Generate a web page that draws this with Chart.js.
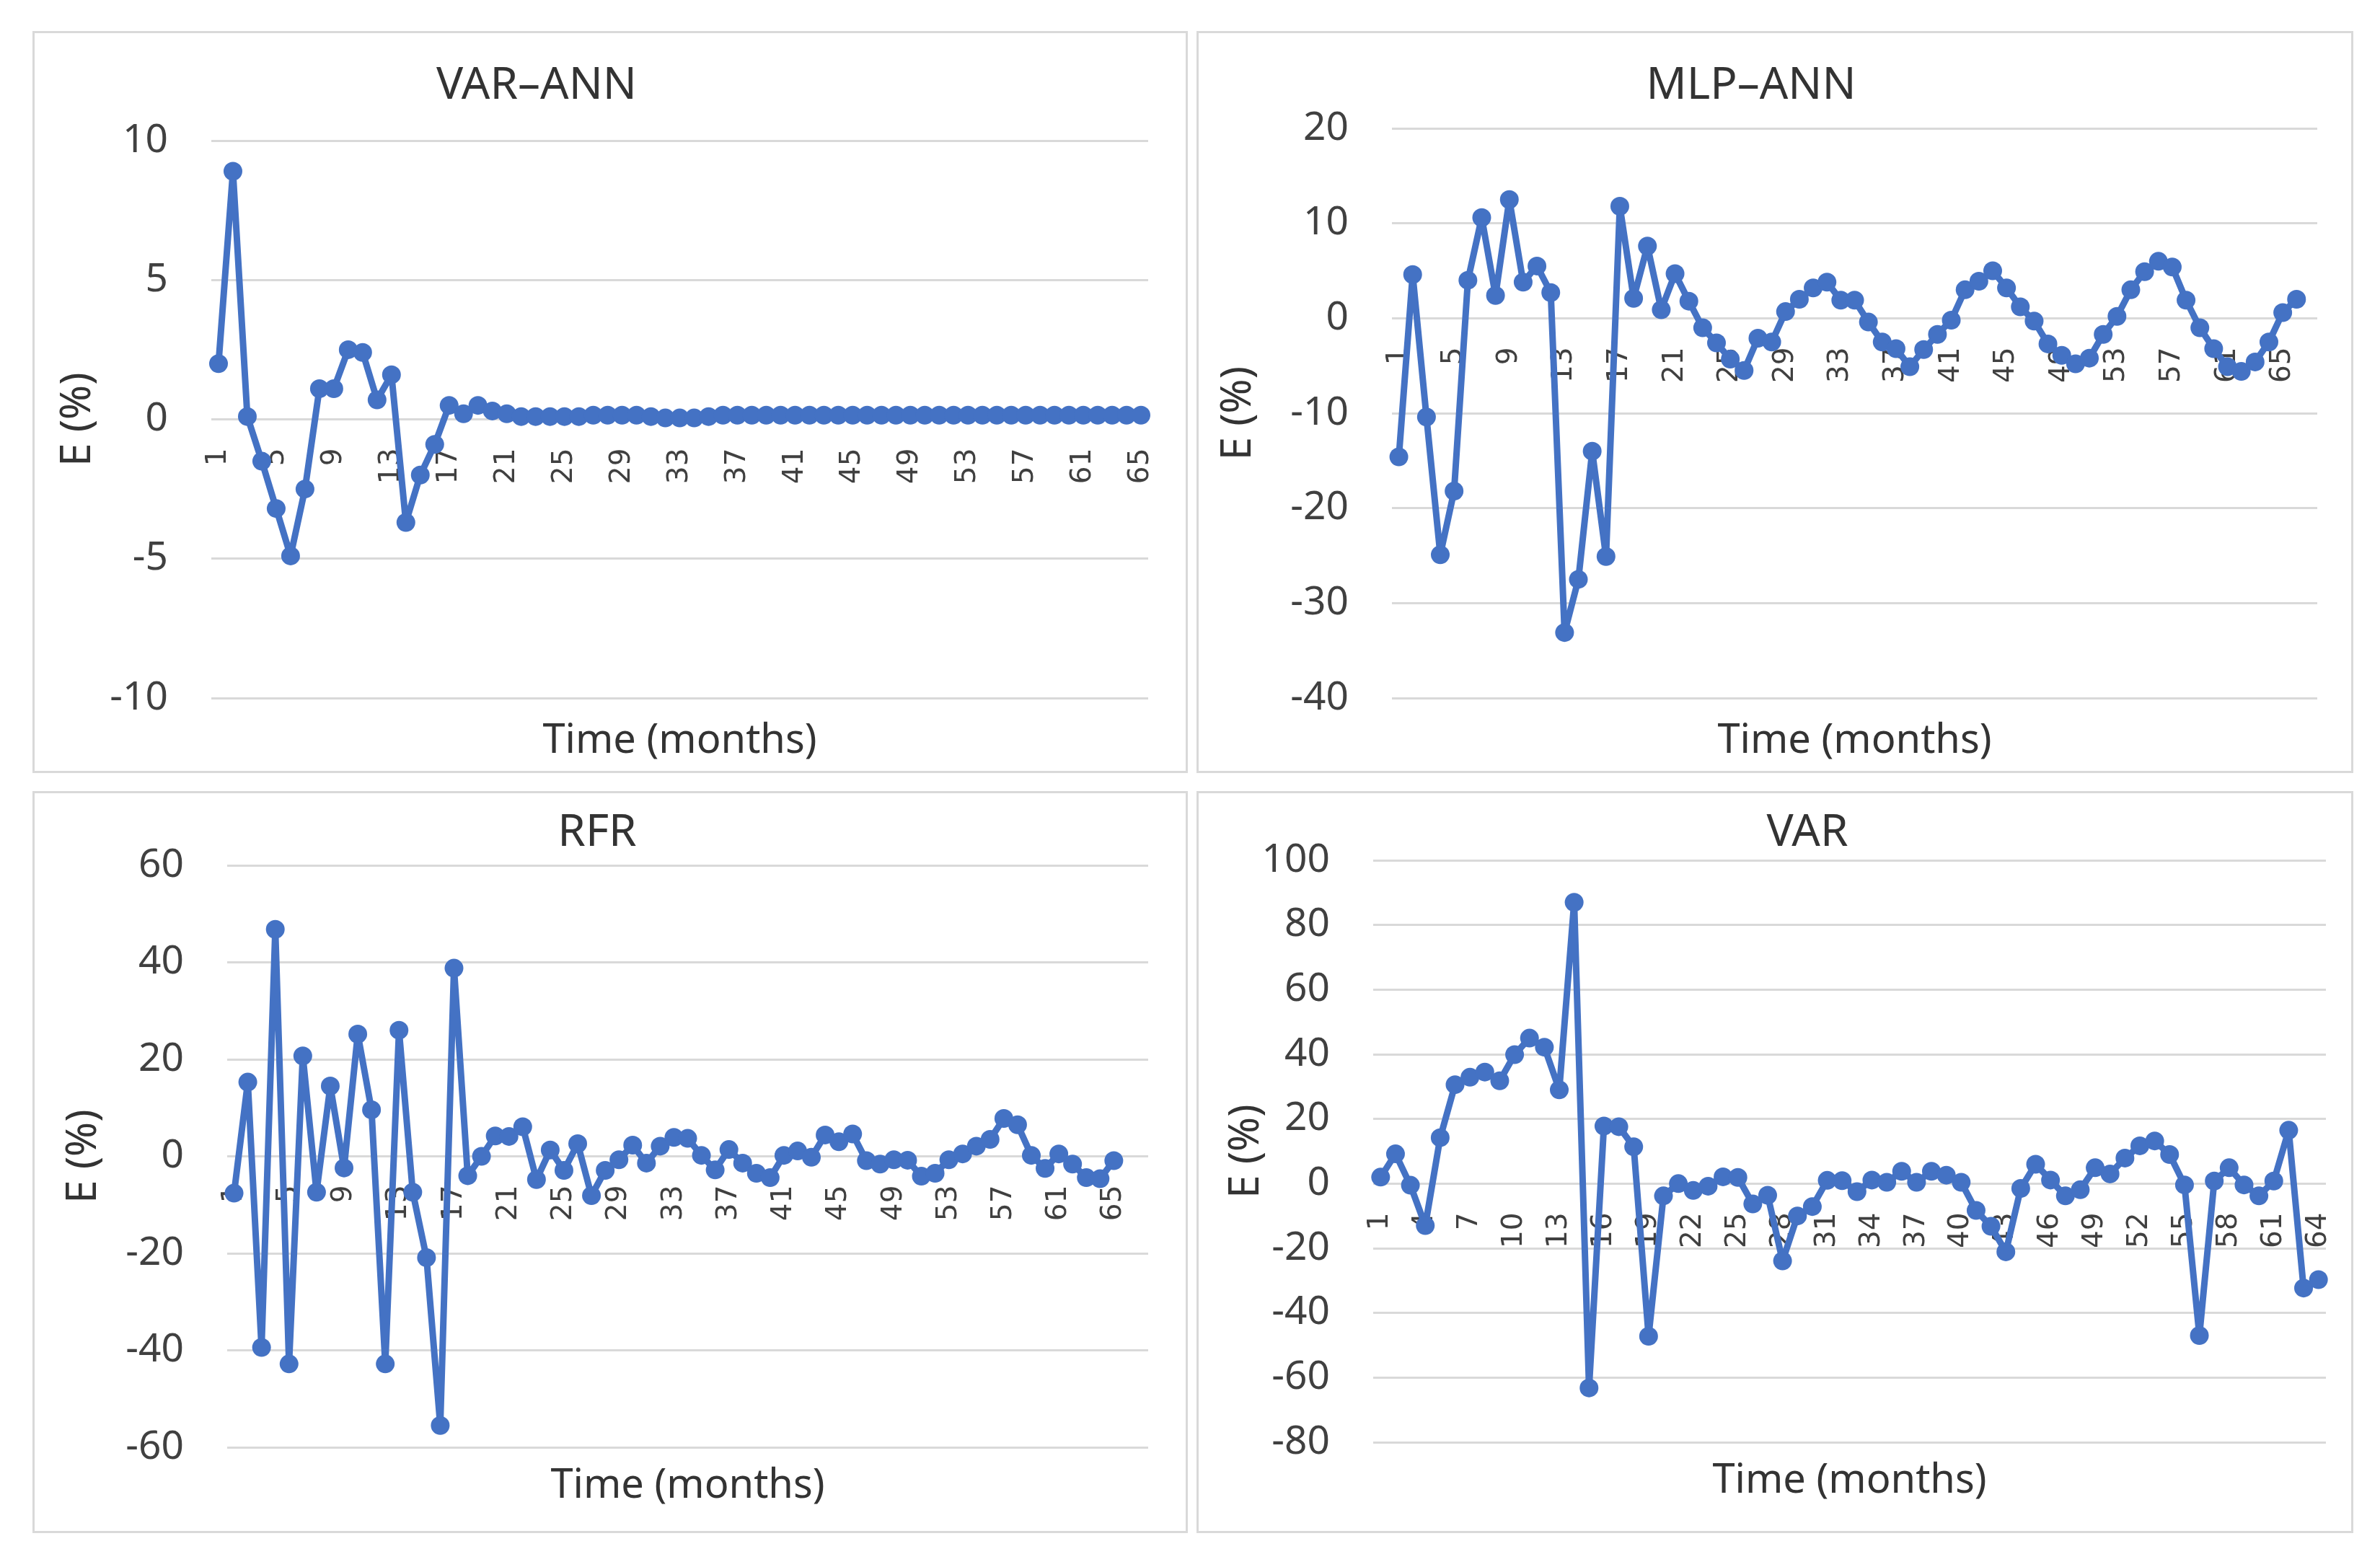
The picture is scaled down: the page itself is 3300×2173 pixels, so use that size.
<!DOCTYPE html>
<html>
<head>
<meta charset="utf-8">
<script src="https://cdn.jsdelivr.net/npm/chart.js@4.4.1/dist/chart.umd.min.js"></script>
<style>
  html, body { margin: 0; padding: 0; background: #fff; }
  body { width: 3300px; height: 2173px; position: relative; overflow: hidden; }
  .frame { position: absolute; box-sizing: border-box; border: 3px solid #d9d9d9; }
  .plot { position: absolute; }
</style>
</head>
<body>
<div class="frame" style="left:45px;top:43px;width:1602px;height:1029px"></div>
<div class="frame" style="left:1659px;top:43px;width:1604px;height:1029px"></div>
<div class="frame" style="left:45px;top:1097px;width:1602px;height:1029px"></div>
<div class="frame" style="left:1659px;top:1097px;width:1604px;height:1029px"></div>
<div class="plot" style="left:45px;top:43px;width:1602px;height:1029px"><canvas id="c1"></canvas></div>
<div class="plot" style="left:1659px;top:43px;width:1604px;height:1029px"><canvas id="c2"></canvas></div>
<div class="plot" style="left:45px;top:1097px;width:1602px;height:1029px"><canvas id="c3"></canvas></div>
<div class="plot" style="left:1659px;top:1097px;width:1604px;height:1029px"><canvas id="c4"></canvas></div>
<script>
// months (categories)
const months = [1,2,3,4,5,6,7,8,9,10,11,12,13,14,15,16,17,18,19,20,21,22,23,24,25,26,27,28,29,30,
  31,32,33,34,35,36,37,38,39,40,41,42,43,44,45,46,47,48,49,50,51,52,53,54,55,56,57,58,59,60,
  61,62,63,64,65,66,67];

// E (%)
const varAnn = [2.0, 8.9, 0.1, -1.5, -3.2, -4.9, -2.5, 1.1, 1.1, 2.5, 2.4, 0.7, 1.6, -3.7, -2.0, -0.9,
  0.5, 0.2, 0.5, 0.3, 0.2, 0.1, 0.1, 0.1, 0.1, 0.1, 0.15, 0.15, 0.15, 0.15, 0.1, 0.05, 0.05, 0.05, 0.1,
  0.15, 0.15, 0.15, 0.15, 0.15, 0.15, 0.15, 0.15, 0.15, 0.15, 0.15, 0.15, 0.15, 0.15, 0.15,
  0.15, 0.15, 0.15, 0.15, 0.15, 0.15, 0.15, 0.15, 0.15, 0.15, 0.15, 0.15, 0.15, 0.15, 0.15];

const mlpAnn = [-14.6, 4.6, -10.4, -24.9, -18.2, 4.0, 10.6, 2.4, 12.5, 3.8, 5.5, 2.7, -33.1, -27.5,
  -14.0, -25.1, 11.8, 2.1, 7.6, 0.9, 4.7, 1.8, -1.0, -2.6, -4.3, -5.5, -2.1, -2.5, 0.7, 2.0, 3.2, 3.8,
  1.9, 1.9, -0.4, -2.5, -3.2, -5.1, -3.3, -1.7, -0.2, 3.0, 3.9, 5.0, 3.2, 1.2, -0.3, -2.7, -3.9, -4.8,
  -4.2, -1.7, 0.2, 3.0, 4.9, 6.0, 5.4, 1.9, -1.0, -3.2, -5.1, -5.6, -4.6, -2.5, 0.6, 2.0];

const rfr = [-7.6, 15.3, -39.4, 46.8, -42.8, 20.7, -7.4, 14.5, -2.4, 25.2, 9.6, -42.8, 26.0, -7.4,
  -20.9, -55.5, 38.8, -4.0, 0.0, 4.2, 4.1, 6.1, -4.8, 1.3, -2.9, 2.6, -8.1, -2.9, -0.7, 2.3, -1.4, 2.1,
  3.9, 3.7, 0.2, -2.8, 1.4, -1.4, -3.5, -4.4, 0.2, 1.1, -0.2, 4.4, 3.0, 4.6, -0.9, -1.6, -0.7, -0.8,
  -4.1, -3.5, -0.7, 0.5, 2.1, 3.5, 7.8, 6.5, 0.2, -2.5, 0.5, -1.6, -4.4, -4.6, -0.9];

const varOnly = [2.0, 9.2, -0.5, -13.0, 14.2, 30.6, 32.9, 34.5, 31.8, 39.9, 45.0, 42.2, 29.0, 87.0,
  -63.2, 17.8, 17.6, 11.4, -47.2, -3.8, 0.0, -2.1, -0.8, 2.1, 1.9, -6.3, -3.6, -23.9, -10.0, -7.1,
  1.0, 0.9, -2.5, 1.1, 0.4, 3.8, 0.4, 3.8, 2.6, 0.4, -8.3, -13.2, -21.1, -1.5, 6.0, 1.1, -3.8, -1.9,
  4.9, 3.0, 7.9, 11.7, 13.2, 9.0, -0.4, -47.0, 0.8, 4.9, -0.4, -3.8, 0.8, 16.5, -32.3, -29.7];

Chart.defaults.font.family = '"Noto Sans", sans-serif';
Chart.defaults.color = '#404040';

// chart title drawn where the original put it (not centred on the panel)
const panelTitle = {
  id: 'panelTitle',
  afterDraw(chart, args, opts) {
    const ctx = chart.ctx;
    ctx.save();
    ctx.font = '62px "Noto Sans"';
    ctx.fillStyle = '#333333';
    ctx.textAlign = 'center';
    ctx.textBaseline = 'middle';
    ctx.fillText(opts.text, opts.x, opts.y);
    ctx.restore();
  }
};

function makeChart(id, p) {
  const labels = months.slice(0, p.count);
  return new Chart(document.getElementById(id), {
    type: 'line',
    data: {
      labels: labels,
      datasets: [{
        data: p.data,
        xAxisID: 'x',
        borderColor: '#4472C4',
        backgroundColor: '#4472C4',
        borderWidth: 9,
        borderJoinStyle: 'round',
        borderCapStyle: 'round',
        pointRadius: 13,
        pointBorderWidth: 0,
        pointBackgroundColor: '#4472C4',
        tension: 0,
        fill: false
      }]
    },
    plugins: [panelTitle],
    options: {
      responsive: true,
      maintainAspectRatio: false,
      devicePixelRatio: 1,
      animation: false,
      layout: { padding: { top: p.padTop, right: p.padRight, left: 0, bottom: 0 } },
      plugins: {
        legend: { display: false },
        tooltip: { enabled: false },
        panelTitle: { text: p.title, x: p.titleX, y: p.titleY }
      },
      scales: {
        x: {
          type: 'category',
          position: { y: 0 },
          offset: true,
          grid: { display: false },
          border: { display: false },
          ticks: {
            autoSkip: false,
            minRotation: 90,
            maxRotation: 90,
            padding: 32,
            color: '#404040',
            font: { family: '"DejaVu Sans"', size: 39 },
            callback: (v, i) => (i % p.every === 0 ? labels[i] : '')
          },
          afterFit: (s) => { s.paddingLeft = 0; s.paddingRight = 0; s.paddingTop = 0; s.paddingBottom = 0; }
        },
        x2: {
          type: 'category',
          position: 'bottom',
          offset: true,
          grid: { display: false },
          border: { display: false },
          ticks: { display: false },
          title: {
            display: true,
            text: 'Time (months)',
            color: '#333333',
            font: { size: 56 },
            padding: { top: 0, bottom: p.timePad }
          },
          afterFit: (s) => { s.height = p.bottomH; s.paddingLeft = 0; s.paddingRight = 0; }
        },
        y: {
          min: p.min,
          max: p.max,
          position: 'left',
          grid: { color: '#d9d9d9', lineWidth: 3, drawTicks: false },
          border: { display: false },
          ticks: {
            stepSize: p.step,
            padding: 60,
            color: '#404040',
            font: { size: 55 }
          },
          title: {
            display: true,
            text: 'E (%)',
            color: '#333333',
            font: { size: 58 },
            padding: { top: p.ePad, bottom: 0 }
          },
          afterFit: (s) => { s.width = p.yW; s.paddingTop = 0; s.paddingBottom = 0; }
        }
      }
    }
  });
}

makeChart('c1', { title: 'VAR–ANN', titleX: 699, titleY: 76, data: varAnn, count: 65, every: 4,
  min: -10, max: 10, step: 5, padTop: 152, padRight: 55, yW: 248, bottomH: 104, timePad: 10, ePad: 29 });
makeChart('c2', { title: 'MLP–ANN', titleX: 769, titleY: 76, data: mlpAnn, count: 67, every: 4,
  min: -40, max: 20, step: 10, padTop: 135, padRight: 50, yW: 271, bottomH: 104, timePad: 10, ePad: 24 });
makeChart('c3', { title: 'RFR', titleX: 783, titleY: 58, data: rfr, count: 67, every: 4,
  min: -60, max: 60, step: 20, padTop: 103, padRight: 55, yW: 270, bottomH: 119, timePad: 31, ePad: 37 });
makeChart('c4', { title: 'VAR', titleX: 847, titleY: 58, data: varOnly, count: 64, every: 3,
  min: -80, max: 100, step: 20, padTop: 96, padRight: 38, yW: 245, bottomH: 126, timePad: 38, ePad: 35 });
</script>
</body>
</html>
